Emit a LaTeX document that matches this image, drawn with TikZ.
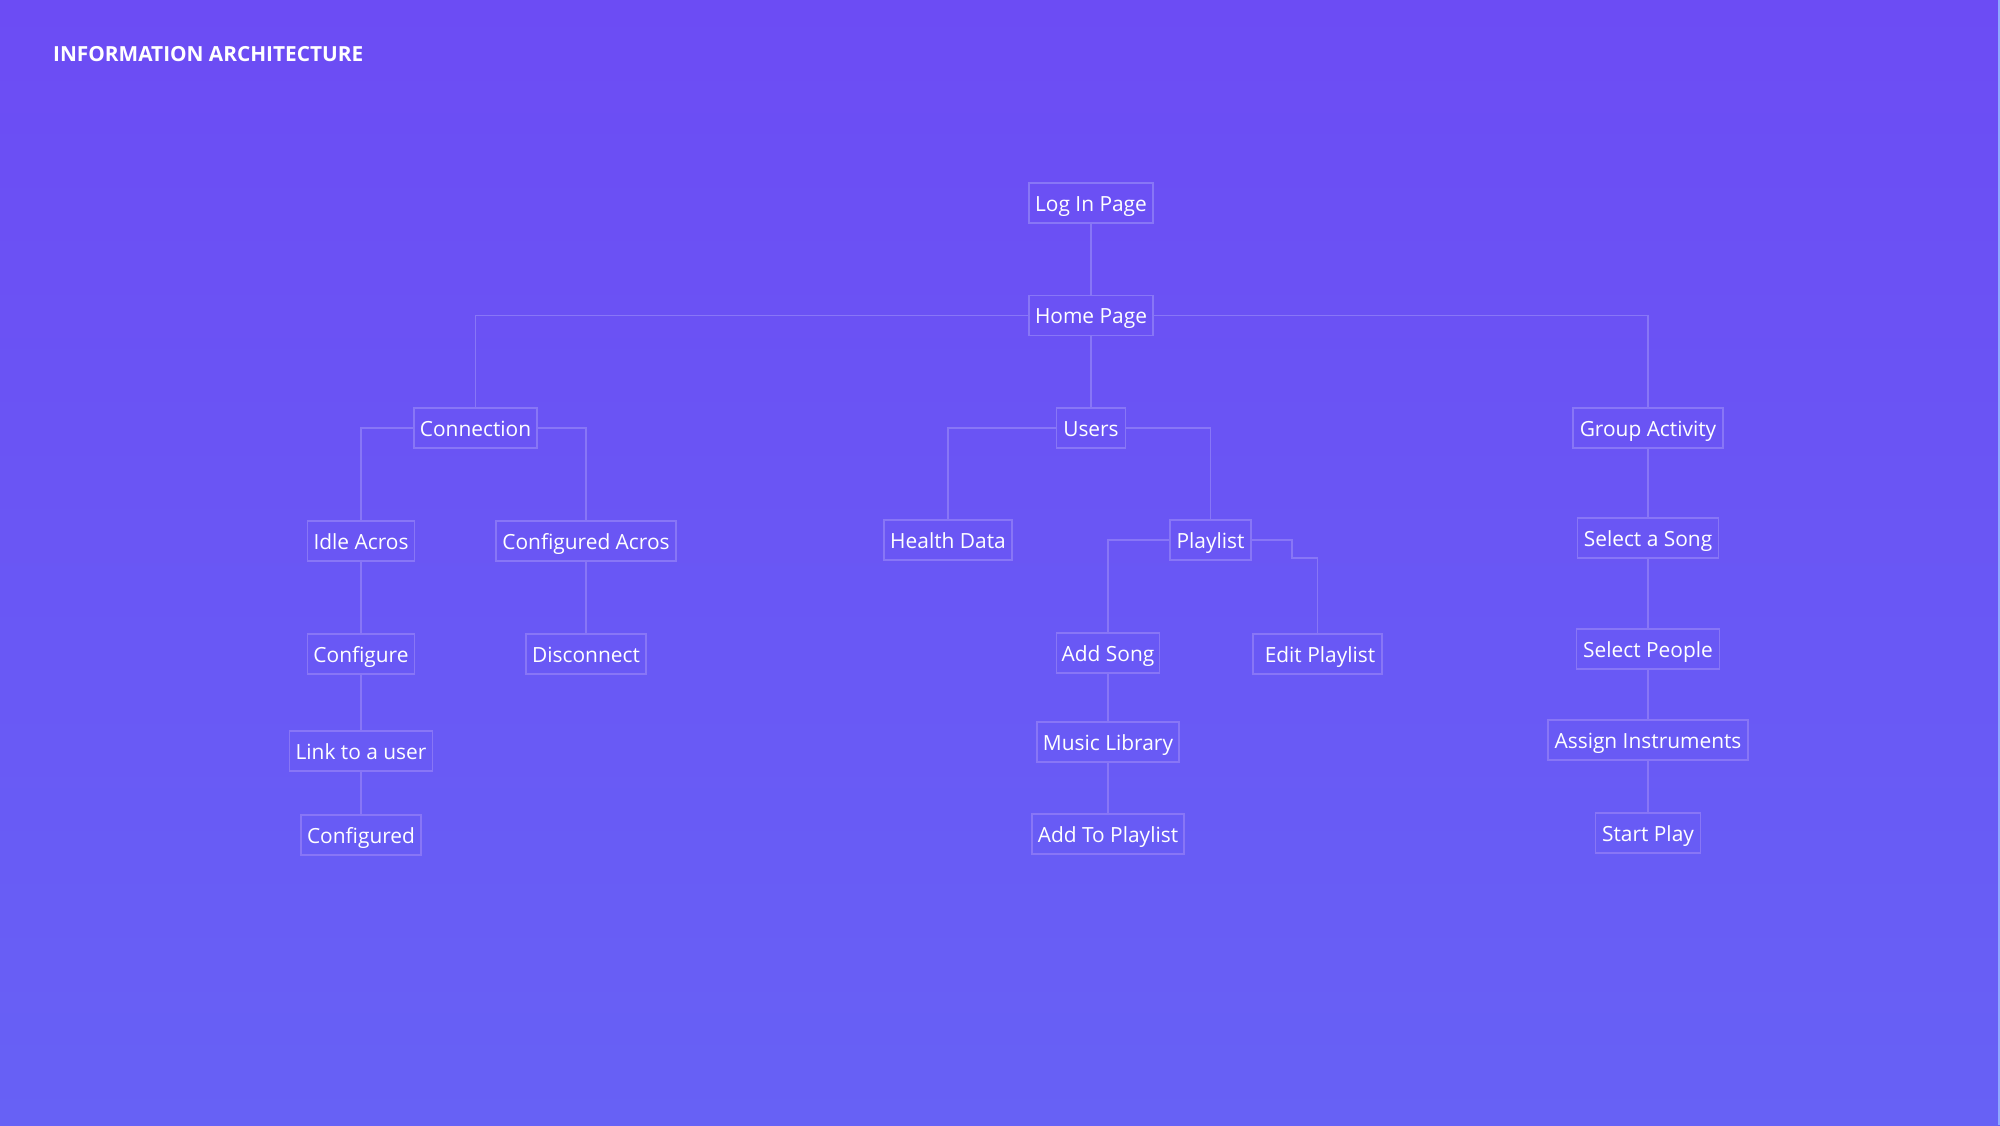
\documentclass[tikz,border=0pt]{standalone}
\usepackage{fontspec}
\setmainfont{Open Sans}
\definecolor{bgtop}{HTML}{6C4CF4}
\definecolor{bgbot}{HTML}{6761F5}
\definecolor{linec}{HTML}{8876F6}
\definecolor{edgec}{HTML}{8FA8FF}
\begin{document}
\begin{tikzpicture}[x=1pt,y=-1pt,
  box/.style={draw=linec, line width=1.2pt, text=white, minimum height=40pt, inner sep=0pt, text height=19.5pt, text depth=2.6pt, font=\fontsize{20.9}{25}\selectfont},
  link/.style={draw=linec, line width=1.2pt}]
\shade[top color=bgtop,bottom color=bgbot] (0,0) rectangle (2000,1125);
\useasboundingbox (0,0) rectangle (2000,1125);
\draw[edgec, line width=2pt] (1999,0) -- (1999,1125);

\node[anchor=base west, inner sep=0pt, text=white, font=\bfseries\fontsize{20.8}{25}\selectfont] (title) at (53,61.5) {INFORMATION ARCHITECTURE};

\node[box, minimum width=124pt] (login) at (1091,203) {Log In Page};
\node[box, minimum width=124pt] (home) at (1091,315.5) {Home Page};
\node[box, minimum width=123pt] (conn) at (475.5,428) {Connection};
\node[box, minimum width=69pt] (users) at (1091,428) {Users};
\node[box, minimum width=150pt] (group) at (1648,428) {Group Activity};
\node[box, minimum width=107pt] (idle) at (361,541) {Idle Acros};
\node[box, minimum width=180pt] (cfgacros) at (586,541) {Configured Acros};
\node[box, minimum width=128pt] (health) at (948,540) {Health Data};
\node[box, minimum width=81pt] (playlist) at (1210.5,540) {Playlist};
\node[box, minimum width=141pt] (selsong) at (1648,538) {Select a Song};
\node[box, minimum width=107pt] (configure) at (361,654) {Configure};
\node[box, minimum width=120pt] (disc) at (586,654) {Disconnect};
\node[box, minimum width=103pt] (addsong) at (1108,653) {Add Song};
\node[box, minimum width=129pt] (editpl) at (1317.5,654) {\hspace{5pt}Edit Playlist};
\node[box, minimum width=143pt] (selpeople) at (1648,649) {Select People};
\node[box, minimum width=143pt] (link) at (361,751) {Link to a user};
\node[box, minimum width=142pt] (musiclib) at (1108,742) {Music Library};
\node[box, minimum width=200pt] (assign) at (1648,740) {Assign Instruments};
\node[box, minimum width=120pt] (configured) at (361,835) {Configured};
\node[box, minimum width=152pt] (addtopl) at (1108,834) {Add To Playlist};
\node[box, minimum width=105pt] (start) at (1648,833) {Start Play};

\coordinate (pk1) at (1292,558);

\draw[link] (login.south) -- (home.north);
\draw[link] (home.south) -- (users.north);
\draw[link] (home.west) -| (conn.north);
\draw[link] (home.east) -| (group.north);
\draw[link] (conn.west) -| (idle.north);
\draw[link] (conn.east) -| (cfgacros.north);
\draw[link] (idle.south) -- (configure.north);
\draw[link] (configure.south) -- (link.north);
\draw[link] (link.south) -- (configured.north);
\draw[link] (cfgacros.south) -- (disc.north);
\draw[link] (users.west) -| (health.north);
\draw[link] (users.east) -| (playlist.north);
\draw[link] (playlist.west) -| (addsong.north);
\draw[link] (playlist.east) -| (pk1) -| (editpl.north);
\draw[link] (addsong.south) -- (musiclib.north);
\draw[link] (musiclib.south) -- (addtopl.north);
\draw[link] (group.south) -- (selsong.north);
\draw[link] (selsong.south) -- (selpeople.north);
\draw[link] (selpeople.south) -- (assign.north);
\draw[link] (assign.south) -- (start.north);
\end{tikzpicture}
\end{document}
